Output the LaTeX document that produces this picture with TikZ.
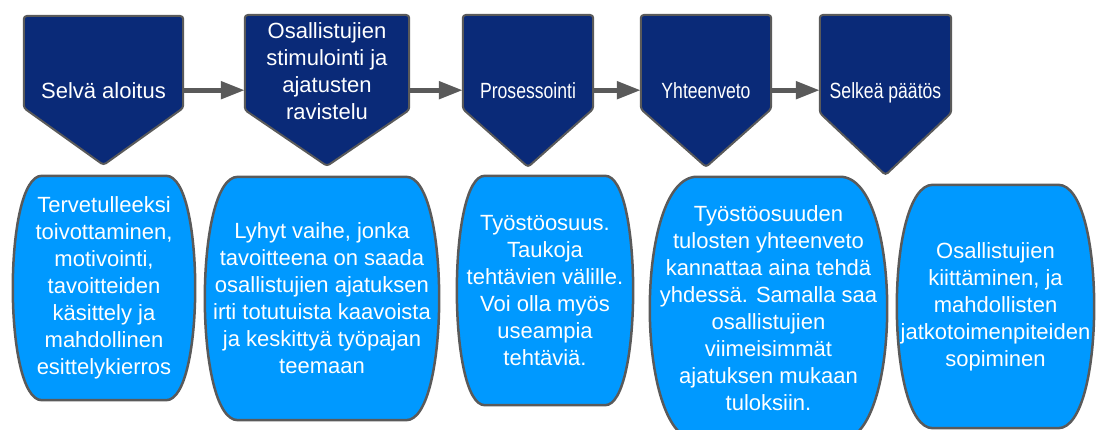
\documentclass[tikz,border=0pt]{standalone}
\usepackage{fontspec}
\setmainfont{Liberation Sans}
\usepackage{graphicx}
\usetikzlibrary{calc}
\usetikzlibrary{positioning}
\usetikzlibrary{backgrounds}
\usetikzlibrary{arrows.meta}
\definecolor{stageBlue}{HTML}{0A2A78}
\definecolor{noteBlue}{HTML}{0099FF}
\definecolor{edgeGray}{HTML}{5A5A5A}
\tikzstyle{stagenode} = [anchor=north, inner sep=0, align=center, text=white, font=\fontsize{22}{27}\selectfont]
\tikzstyle{notenode} = [inner sep=0, align=center, text=white, font=\fontsize{22}{27}\selectfont]
\tikzstyle{stageshape} = [fill=stageBlue, draw=edgeGray, line width=2, rounded corners=3]
\tikzstyle{noteshape} = [fill=noteBlue, draw=edgeGray, line width=2.5]
\tikzstyle{flowarrow} = [draw=edgeGray, line width=5, shorten <=1, -{Triangle[length=24,width=17]}]

\begin{document}
\begin{tikzpicture}[x=1pt, y=1pt]
    \useasboundingbox (0,0) rectangle (1096,-430);
    \node[stagenode, minimum width=159, minimum height=148] (stage_start) at (103.5,-16) {Selvä aloitus};
    \node[stagenode, minimum width=164, minimum height=112] (stage_ideas) at ($(stage_start.north)+(223.5,1)$) {Osallistujien\\stimulointi ja\\ajatusten\\ravistelu};
    \node[stagenode, minimum width=130, minimum height=150] (stage_process) at ($(stage_ideas.north)+(201,0)$) {\scalebox{0.8}[1]{Prosessointi}};
    \node[stagenode, minimum width=130, minimum height=150] (stage_summary) at ($(stage_process.north)+(178,0)$) {\scalebox{0.8}[1]{Yhteenveto}};
    \node[stagenode, minimum width=131, minimum height=156] (stage_decision) at ($(stage_summary.north)+(179.5,0)$) {\scalebox{0.8}[1]{Selkeä päätös}};

    \node[notenode, minimum width=182, minimum height=224] (note_start) at ($(stage_start.north)+(0.5,-272)$) {Tervetulleeksi\\toivottaminen,\\motivointi,\\tavoitteiden\\käsittely ja\\mahdollinen\\esittelykierros};
    \node[notenode, minimum width=234, minimum height=243] (note_ideas) at ($(stage_ideas.north)+(-5,-283.5)$) {Lyhyt vaihe, jonka\\tavoitteena on saada\\osallistujien ajatuksen\\irti totutuista kaavoista\\ja keskittyä työpajan\\teemaan};
    \node[notenode, minimum width=176, minimum height=229] (note_process) at ($(stage_process.north)+(17,-275.5)$) {Työstöosuus.\\Taukoja\\tehtävien välille.\\Voi olla myös\\useampia\\tehtäviä.};
    \node[notenode, minimum width=237, minimum height=263] (note_summary) at ($(stage_summary.north)+(62.5,-293.5)$) {Työstöosuuden\\tulosten yhteenveto\\kannattaa aina tehdä\\yhdessä. Samalla saa\\osallistujien\\viimeisimmät\\ajatuksen mukaan\\tuloksiin.};
    \node[notenode, minimum width=197, minimum height=243] (note_decision) at ($(stage_decision.north)+(110,-291.5)$) {Osallistujien\\kiittäminen, ja\\mahdollisten\\jatkotoimenpiteiden\\sopiminen};

    \begin{scope}[on background layer]
        \draw[stageshape] (stage_start.north west) -- (stage_start.north east) -- ++(0,-92) -- ($(stage_start.north)+(0,-149)$) -- ($(stage_start.north west)+(0,-92)$) -- cycle;
        \draw[stageshape] (stage_ideas.north west) -- (stage_ideas.north east) -- ++(0,-95) -- ($(stage_ideas.north)+(0,-151)$) -- ($(stage_ideas.north west)+(0,-95)$) -- cycle;
        \draw[stageshape] (stage_process.north west) -- (stage_process.north east) -- ++(0,-94) -- ($(stage_process.north)+(0,-152)$) -- ($(stage_process.north west)+(0,-94)$) -- cycle;
        \draw[stageshape] (stage_summary.north west) -- (stage_summary.north east) -- ++(0,-94) -- ($(stage_summary.north)+(0,-152)$) -- ($(stage_summary.north west)+(0,-94)$) -- cycle;
        \draw[stageshape] (stage_decision.north west) -- (stage_decision.north east) -- ++(0,-98) -- ($(stage_decision.north)+(0,-160)$) -- ($(stage_decision.north west)+(0,-98)$) -- cycle;

        \draw[noteshape] ($(note_start.north west)+(29,0)$) -- ($(note_start.north east)+(-29,0)$) .. controls +(38.7,0) and +(38.7,0) .. ($(note_start.south east)+(-29,0)$) -- ($(note_start.south west)+(29,0)$) .. controls +(-38.7,0) and +(-38.7,0) .. ($(note_start.north west)+(29,0)$) -- cycle;
        \draw[noteshape] ($(note_ideas.north west)+(33,0)$) -- ($(note_ideas.north east)+(-33,0)$) .. controls +(44,0) and +(44,0) .. ($(note_ideas.south east)+(-33,0)$) -- ($(note_ideas.south west)+(33,0)$) .. controls +(-44,0) and +(-44,0) .. ($(note_ideas.north west)+(33,0)$) -- cycle;
        \draw[noteshape] ($(note_process.north west)+(28,0)$) -- ($(note_process.north east)+(-28,0)$) .. controls +(37.3,0) and +(37.3,0) .. ($(note_process.south east)+(-28,0)$) -- ($(note_process.south west)+(28,0)$) .. controls +(-37.3,0) and +(-37.3,0) .. ($(note_process.north west)+(28,0)$) -- cycle;
        \draw[noteshape] ($(note_summary.north west)+(47,0)$) -- ($(note_summary.north east)+(-47,0)$) .. controls +(62.7,0) and +(62.7,0) .. ($(note_summary.south east)+(-47,0)$) -- ($(note_summary.south west)+(47,0)$) .. controls +(-62.7,0) and +(-62.7,0) .. ($(note_summary.north west)+(47,0)$) -- cycle;
        \draw[noteshape] ($(note_decision.north west)+(36,0)$) -- ($(note_decision.north east)+(-36,0)$) .. controls +(48,0) and +(48,0) .. ($(note_decision.south east)+(-36,0)$) -- ($(note_decision.south west)+(36,0)$) .. controls +(-48,0) and +(-48,0) .. ($(note_decision.north west)+(36,0)$) -- cycle;
    \end{scope}

    \draw[flowarrow] (stage_start.east) -- (stage_start.east -| stage_ideas.west);
    \draw[flowarrow] (stage_ideas.east |- stage_process.west) -- (stage_process.west);
    \draw[flowarrow] (stage_process.east) -- (stage_summary.west);
    \draw[flowarrow] (stage_summary.east) -- (stage_summary.east -| stage_decision.west);
\end{tikzpicture}
\end{document}
